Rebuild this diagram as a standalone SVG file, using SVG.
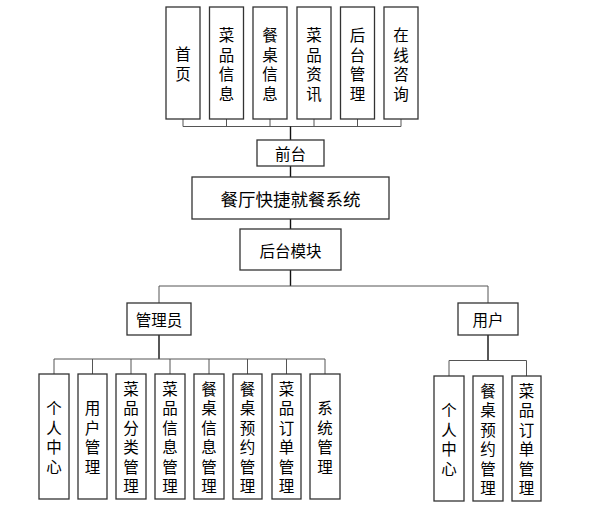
<svg xmlns="http://www.w3.org/2000/svg" width="605" height="508" viewBox="0 0 605 508">
<style>
.box{fill:#fff;stroke:#333;stroke-width:1.3}
.t{font-family:"Noto Sans CJK SC","Noto Sans",sans-serif;font-size:15.5px;fill:#000;text-anchor:middle;dominant-baseline:central}
.big{font-size:17.5px}
.br{fill:none;stroke:#555;stroke-width:1}
.tr{fill:none;stroke:#111;stroke-width:1.4}
</style>
<rect width="605" height="508" fill="#fff"/>
<g id="connectors">
<path class="br" d="M183 119V126.5H401M226.5 119V126.5M270 119V126.5M314 119V126.5M357.5 119V126.5M401 119V126.5"/>
<path class="tr" d="M290.5 126.5V140M290.5 166V177M290.5 219V229M290.5 270V286"/>
<path class="br" d="M159 303V286H488V303"/>
<path class="tr" d="M159 335V359M488 335V360.5"/>
<path class="br" d="M54 374V359H325V374M92.5 359V374M131 359V374M170 359V374M209 359V374M247.5 359V374M286.5 359V374"/>
<path class="br" d="M449 376V360.5H526.5V376"/>
</g>
<g id="n-shouye"><rect class="box" x="166" y="7" width="34" height="112"/><text class="t" x="183"><tspan x="183" y="53">首</tspan><tspan x="183" y="73">页</tspan></text></g>
<g id="n-caipinxinxi"><rect class="box" x="209.5" y="7" width="34" height="112"/><text class="t"><tspan x="226.5" y="34">菜</tspan><tspan x="226.5" y="53.5">品</tspan><tspan x="226.5" y="73">信</tspan><tspan x="226.5" y="92.5">息</tspan></text></g>
<g id="n-canzhuoxinxi"><rect class="box" x="253" y="7" width="34" height="112"/><text class="t"><tspan x="270" y="34">餐</tspan><tspan x="270" y="53.5">桌</tspan><tspan x="270" y="73">信</tspan><tspan x="270" y="92.5">息</tspan></text></g>
<g id="n-caipinzixun"><rect class="box" x="297" y="7" width="34" height="112"/><text class="t"><tspan x="314" y="34">菜</tspan><tspan x="314" y="53.5">品</tspan><tspan x="314" y="73">资</tspan><tspan x="314" y="92.5">讯</tspan></text></g>
<g id="n-houtaiguanli"><rect class="box" x="340.5" y="7" width="34" height="112"/><text class="t"><tspan x="357.5" y="34">后</tspan><tspan x="357.5" y="53.5">台</tspan><tspan x="357.5" y="73">管</tspan><tspan x="357.5" y="92.5">理</tspan></text></g>
<g id="n-zaixianzixun"><rect class="box" x="384" y="7" width="34" height="112"/><text class="t"><tspan x="401" y="34">在</tspan><tspan x="401" y="53.5">线</tspan><tspan x="401" y="73">咨</tspan><tspan x="401" y="92.5">询</tspan></text></g>
<g id="n-qiantai"><rect class="box" x="257" y="140" width="67" height="26"/><text class="t" x="290.5" y="153">前台</text></g>
<g id="n-system"><rect class="box" x="192" y="177" width="197" height="42"/><text class="t big" x="290.5" y="198">餐厅快捷就餐系统</text></g>
<g id="n-houtaimokuai"><rect class="box" x="240" y="229" width="101" height="41"/><text class="t" x="290.5" y="249.5">后台模块</text></g>
<g id="n-admin"><rect class="box" x="127" y="303" width="64" height="32"/><text class="t" x="159" y="319">管理员</text></g>
<g id="n-user"><rect class="box" x="458" y="303" width="60" height="32"/><text class="t" x="488" y="319">用户</text></g>
<g id="a-gerenzhongxin"><rect class="box" x="39" y="374" width="30" height="125"/><text class="t"><tspan x="54" y="407">个</tspan><tspan x="54" y="426.5">人</tspan><tspan x="54" y="446">中</tspan><tspan x="54" y="465.5">心</tspan></text></g>
<g id="a-yonghuguanli"><rect class="box" x="78" y="374" width="29" height="125"/><text class="t"><tspan x="92.5" y="407">用</tspan><tspan x="92.5" y="426.5">户</tspan><tspan x="92.5" y="446">管</tspan><tspan x="92.5" y="465.5">理</tspan></text></g>
<g id="a-caipinfenlei"><rect class="box" x="116" y="374" width="30" height="125"/><text class="t"><tspan x="131" y="387.5">菜</tspan><tspan x="131" y="407">品</tspan><tspan x="131" y="426.5">分</tspan><tspan x="131" y="446">类</tspan><tspan x="131" y="465.5">管</tspan><tspan x="131" y="485">理</tspan></text></g>
<g id="a-caipinxinxi"><rect class="box" x="155" y="374" width="30" height="125"/><text class="t"><tspan x="170" y="387.5">菜</tspan><tspan x="170" y="407">品</tspan><tspan x="170" y="426.5">信</tspan><tspan x="170" y="446">息</tspan><tspan x="170" y="465.5">管</tspan><tspan x="170" y="485">理</tspan></text></g>
<g id="a-canzhuoxinxi"><rect class="box" x="194" y="374" width="30" height="125"/><text class="t"><tspan x="209" y="387.5">餐</tspan><tspan x="209" y="407">桌</tspan><tspan x="209" y="426.5">信</tspan><tspan x="209" y="446">息</tspan><tspan x="209" y="465.5">管</tspan><tspan x="209" y="485">理</tspan></text></g>
<g id="a-canzhuoyuyue"><rect class="box" x="233" y="374" width="29" height="125"/><text class="t"><tspan x="247.5" y="387.5">餐</tspan><tspan x="247.5" y="407">桌</tspan><tspan x="247.5" y="426.5">预</tspan><tspan x="247.5" y="446">约</tspan><tspan x="247.5" y="465.5">管</tspan><tspan x="247.5" y="485">理</tspan></text></g>
<g id="a-caipindingdan"><rect class="box" x="272" y="374" width="29" height="125"/><text class="t"><tspan x="286.5" y="387.5">菜</tspan><tspan x="286.5" y="407">品</tspan><tspan x="286.5" y="426.5">订</tspan><tspan x="286.5" y="446">单</tspan><tspan x="286.5" y="465.5">管</tspan><tspan x="286.5" y="485">理</tspan></text></g>
<g id="a-xitongguanli"><rect class="box" x="310" y="374" width="30" height="125"/><text class="t"><tspan x="325" y="407">系</tspan><tspan x="325" y="426.5">统</tspan><tspan x="325" y="446">管</tspan><tspan x="325" y="465.5">理</tspan></text></g>
<g id="u-gerenzhongxin"><rect class="box" x="434" y="376" width="30" height="125"/><text class="t"><tspan x="449" y="409">个</tspan><tspan x="449" y="428.5">人</tspan><tspan x="449" y="448">中</tspan><tspan x="449" y="467.5">心</tspan></text></g>
<g id="u-canzhuoyuyue"><rect class="box" x="473" y="376" width="30" height="125"/><text class="t"><tspan x="488" y="389.5">餐</tspan><tspan x="488" y="409">桌</tspan><tspan x="488" y="428.5">预</tspan><tspan x="488" y="448">约</tspan><tspan x="488" y="467.5">管</tspan><tspan x="488" y="487">理</tspan></text></g>
<g id="u-caipindingdan"><rect class="box" x="512" y="376" width="29" height="125"/><text class="t"><tspan x="526.5" y="389.5">菜</tspan><tspan x="526.5" y="409">品</tspan><tspan x="526.5" y="428.5">订</tspan><tspan x="526.5" y="448">单</tspan><tspan x="526.5" y="467.5">管</tspan><tspan x="526.5" y="487">理</tspan></text></g>
</svg>
